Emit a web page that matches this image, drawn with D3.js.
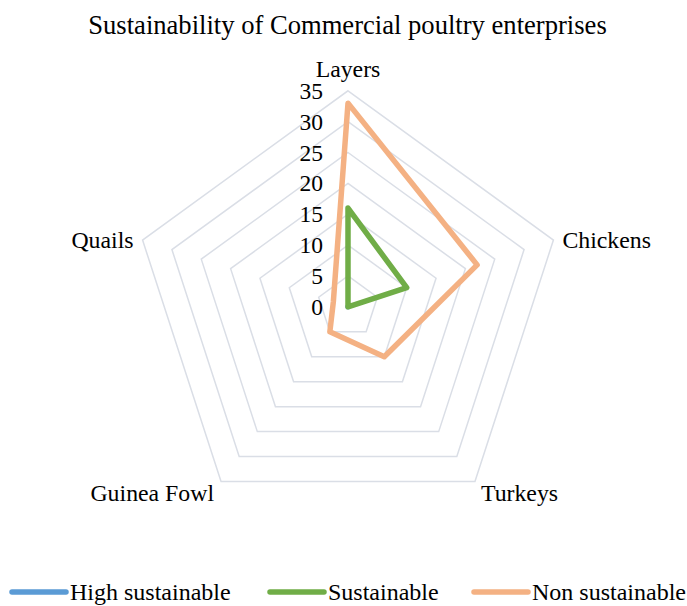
<!DOCTYPE html>
<html>
<head>
<meta charset="utf-8">
<script src="https://cdn.jsdelivr.net/npm/d3@7"></script>
<style>
  html, body { margin: 0; padding: 0; background: #fff; }
  svg { display: block; }
</style>
</head>
<body>
<div id="chart"></div>
<script>
// radar chart: sustainability of commercial poultry enterprises
const categories = ['Layers', 'Chickens', 'Turkeys', 'Guinea Fowl', 'Quails'];
const highSustainable = [0, 0, 0, 0, 0];
const sustainable     = [16, 10, 0, 0, 0];
const nonSustainable  = [33, 22, 10, 5, 2.5];
const tickValues = [0, 5, 10, 15, 20, 25, 30, 35];

const seriesNames  = ['High sustainable', 'Sustainable', 'Non sustainable'];
const seriesColors = ['#5B9BD5', '#70AD47', '#F4B183'];

const W = 687, H = 606;
const cx = 348, cy = 306.8, R = 216;
const FONT = '"Liberation Serif", "Times New Roman", serif';

const svg = d3.select('#chart').append('svg')
  .attr('width', W).attr('height', H)
  .attr('viewBox', `0 0 ${W} ${H}`);

const r = d3.scaleLinear().domain([0, 35]).range([0, R]);
const angle = d3.scaleLinear().domain([0, categories.length]).range([0, 2 * Math.PI]);

const g = svg.append('g').attr('transform', `translate(${cx},${cy})`);

// grid pentagons
const ring = d3.lineRadial()
  .angle((d, i) => angle(i))
  .radius(d => r(d))
  .curve(d3.curveLinearClosed);

g.selectAll('path.grid')
  .data(tickValues.filter(t => t > 0))
  .join('path')
  .attr('class', 'grid')
  .attr('d', t => ring(categories.map(() => t)))
  .attr('fill', 'none')
  .attr('stroke', '#dadee6')
  .attr('stroke-width', 1.5);

// tick labels along Layers axis
g.selectAll('text.tick')
  .data(tickValues)
  .join('text')
  .attr('class', 'tick')
  .attr('x', -25)
  .attr('y', t => -r(t))
  .attr('dy', '0.34em')
  .attr('text-anchor', 'end')
  .attr('font-family', FONT).attr('font-size', 23.5)
  .attr('fill', '#000')
  .text(t => t);

// series
const series = [highSustainable, sustainable, nonSustainable];
g.selectAll('path.series')
  .data(series)
  .join('path')
  .attr('class', 'series')
  .attr('d', d => ring(d))
  .attr('fill', 'none')
  .attr('stroke', (d, i) => seriesColors[i])
  .attr('stroke-width', 5.5)
  .attr('stroke-linejoin', 'round')
  .attr('stroke-linecap', 'round');

// category labels
const labelPos = (i) => {
  const a = angle(i);
  const sx = Math.sin(a), sy = -Math.cos(a);
  const x = r(35) * sx, y = r(35) * sy;
  if (i === 0) return { x, y: y - 14, anchor: 'middle', dy: '0' };
  if (sy < 0) return { x: x + (sx > 0 ? 9 : -9), y, anchor: sx > 0 ? 'start' : 'end', dy: '0.34em' };
  return { x: x + (sx > 0 ? 6 : -7), y: y + 11, anchor: sx > 0 ? 'start' : 'end', dy: '0.34em' };
};

g.selectAll('text.cat')
  .data(categories)
  .join('text')
  .attr('class', 'cat')
  .each(function(d, i) {
    const p = labelPos(i);
    d3.select(this).attr('x', p.x).attr('y', p.y).attr('dy', p.dy).attr('text-anchor', p.anchor);
  })
  .attr('font-family', FONT).attr('font-size', 23.8)
  .attr('fill', '#000')
  .text(d => d);

// title
svg.append('text')
  .attr('x', W / 2 + 4).attr('y', 34)
  .attr('text-anchor', 'middle')
  .attr('font-family', FONT).attr('font-size', 26.6)
  .attr('fill', '#000')
  .text('Sustainability of Commercial poultry enterprises');

// legend
const legendX = [12, 270, 474];
const leg = svg.append('g').selectAll('g')
  .data(seriesNames)
  .join('g')
  .attr('transform', (d, i) => `translate(${legendX[i]},592)`);

leg.append('line')
  .attr('x1', 0).attr('x2', 54)
  .attr('stroke', (d, i) => seriesColors[i])
  .attr('stroke-width', 5.5)
  .attr('stroke-linecap', 'round');

leg.append('text')
  .attr('x', 58).attr('dy', '0.34em')
  .attr('font-family', FONT).attr('font-size', 24)
  .attr('fill', '#000')
  .text(d => d);
</script>
</body>
</html>
